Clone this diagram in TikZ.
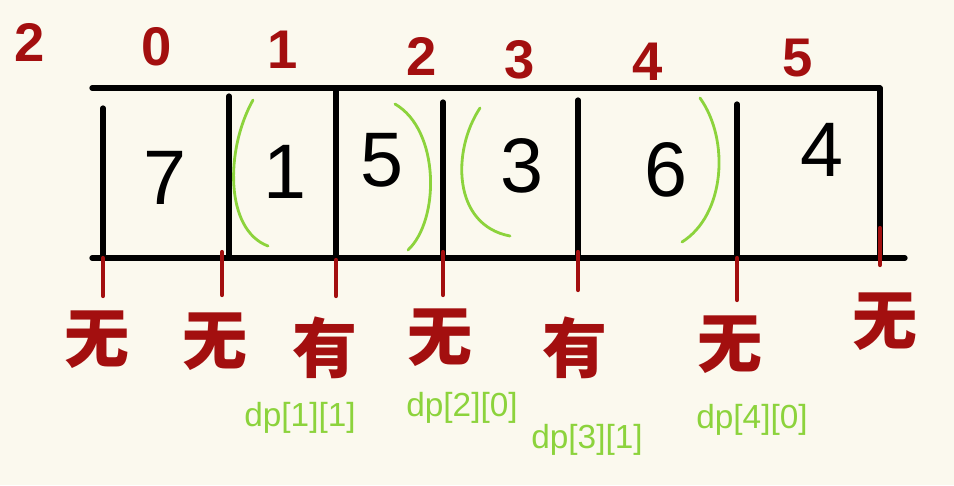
\documentclass[tikz,border=0pt]{standalone}
\usepackage{fontspec}
\newfontfamily\cjk{Noto Sans CJK SC}
\setmainfont{Liberation Sans}
\usetikzlibrary{calc,positioning}
\definecolor{paper}{HTML}{FBF9EE}
\definecolor{ink}{HTML}{A30F0F}
\definecolor{leaf}{HTML}{8CD33C}
\tikzset{
  box/.style={line width=3pt,black,line cap=round},
  tick/.style={line width=2.4pt,ink,line cap=round},
  paren/.style={line width=1.6pt,leaf,line cap=round},
  num/.style={font=\fontsize{44}{44}\selectfont},
  idx/.style={ink,font=\bfseries\fontsize{31}{31}\selectfont},
  yes/.style={ink,font=\cjk\bfseries\fontsize{37}{37}\selectfont},
  dp/.style={leaf,font=\fontsize{19}{19}\selectfont}
}
\begin{document}
\begin{tikzpicture}[x=0.02cm,y=-0.02cm]
		\fill[paper] (0,0) rectangle (954,485);
		\useasboundingbox (0,0) rectangle (954,485);
		% frame
		\draw[box] (92,88) to (880,88);
		\draw[box] (92,258) to (905,258);
		\draw[box] (103,108) to (103,258);
		\draw[box] (229,96) to (229,258);
		\draw[box] (336,88) to (336,258);
		\draw[box] (443,102) to (443,258);
		\draw[box] (578,100) to (578,258);
		\draw[box] (737,104) to (737,258);
		\draw[box] (880,88) to (880,258);
		% values
		\node[num] (v0) at (165,178) {7};
		\node[num] (v1) at (285,172) {1};
		\node[num] (v2) at (382,160) {5};
		\node[num] (v3) at (522,166) {3};
		\node[num] (v4) at (666,170) {6};
		\node[num] (v5) at (822,150) {4};
		% green brackets
		\draw[paren] (253,100) .. controls (225,150) and (225,230) .. (268,246);
		\draw[paren] (395,104) .. controls (440,130) and (440,220) .. (408,250);
		\draw[paren] (480,108) .. controls (452,150) and (452,225) .. (510,236);
		\draw[paren] (700,98) .. controls (730,140) and (725,215) .. (682,242);
		% indices on top
		\node[idx] (i0) at (30,42) {2};
		\node[idx] (i1) at (157,47) {0};
		\node[idx] (i2) at (283,50) {1};
		\node[idx] (i3) at (422,56) {2};
		\node[idx] (i4) at (520,60) {3};
		\node[idx] (i5) at (648,62) {4};
		\node[idx] (i6) at (798,58) {5};
		% red ticks
		\draw[tick] (103,258) to (103,296);
		\draw[tick] (222,252) to (222,295);
		\draw[tick] (336,260) to (336,296);
		\draw[tick] (443,252) to (443,295);
		\draw[tick] (578,252) to (578,290);
		\draw[tick] (737,258) to (737,300);
		\draw[tick] (880,228) to (880,265);
		% has / has not
		\node[yes] (s0) at (97,340) {无};
		\node[yes] (s1) at (215,342) {无};
		\node[yes] (s2) at (325,348) {有};
		\node[yes] (s3) at (440,338) {无};
		\node[yes] (s4) at (575,348) {有};
		\node[yes] (s5) at (730,345) {无};
		\node[yes] (s6) at (885,322) {无};
		% dp states
		\node[dp] (d0) at (300,418) {dp[1][1]};
		\node[dp] (d1) at (462,408) {dp[2][0]};
		\node[dp] (d2) at (587,440) {dp[3][1]};
		\node[dp] (d3) at (752,420) {dp[4][0]};
	\end{tikzpicture}
\end{document}
